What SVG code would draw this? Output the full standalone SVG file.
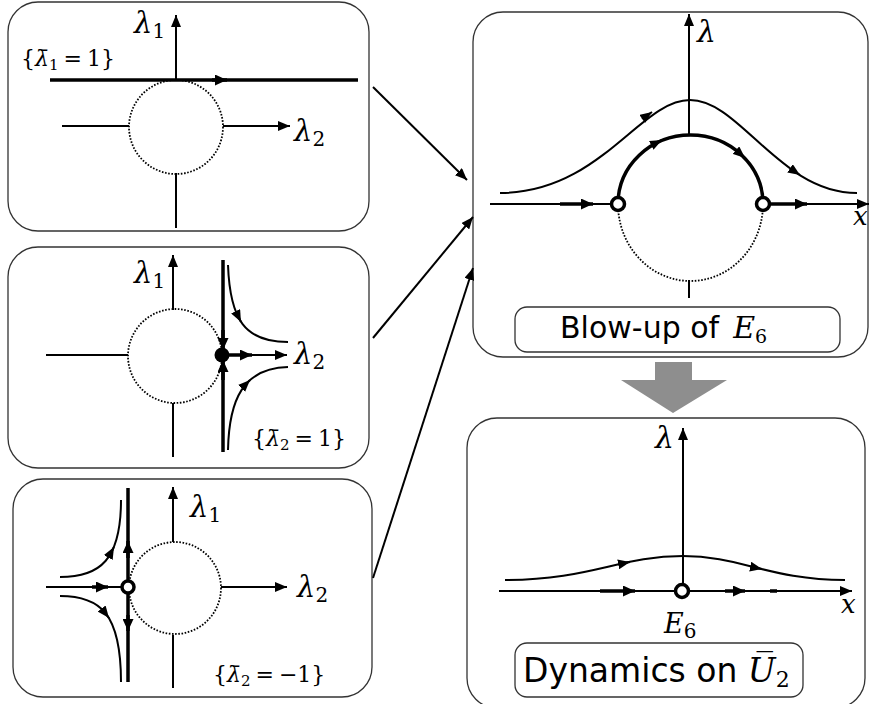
<svg xmlns="http://www.w3.org/2000/svg" width="870" height="704" viewBox="0 0 870 704">
<defs>
<style>
.panel{fill:#fff;stroke:#333;stroke-width:1.3}
.box{fill:#fff;stroke:#333;stroke-width:1.3}
.ln{stroke:#000;stroke-width:2;fill:none}
.tk{stroke:#000;stroke-width:3.5;fill:none}
.dt{stroke:#000;stroke-width:1.8;fill:none;stroke-dasharray:1.6 1.6}
.oc{fill:#fff;stroke:#000;stroke-width:3.5}
.m{font-family:"DejaVu Serif","Liberation Serif",serif;fill:#000}
.i{font-style:italic}
.s{font-family:"DejaVu Sans","Liberation Sans",sans-serif;fill:#000}
</style>
<marker id="ah" viewBox="0 0 12 10" refX="12" refY="5" markerWidth="12" markerHeight="10" markerUnits="userSpaceOnUse" orient="auto"><path d="M0,0 L12,5 L0,10 z" fill="#000"/></marker>
<marker id="fh" viewBox="0 0 12 11" refX="12" refY="5.5" markerWidth="12" markerHeight="11" markerUnits="userSpaceOnUse" orient="auto"><path d="M0,0 L12,5.5 L0,11 z" fill="#000"/></marker>
</defs>

<g id="panel-lambda1">
<rect class="panel" x="8" y="2" width="361" height="229" rx="30"/>
<line class="ln" x1="176" y1="80" x2="176" y2="15" marker-end="url(#ah)"/>
<line class="ln" x1="176" y1="173" x2="176" y2="228"/>
<circle class="dt" cx="176" cy="127" r="47"/>
<line class="tk" x1="50" y1="80" x2="358" y2="80"/>
<path class="tk" d="M212,80 L227,80" marker-end="url(#fh)"/>
<line class="ln" x1="62" y1="126" x2="129" y2="126"/>
<line class="ln" x1="223" y1="126" x2="290" y2="126" marker-end="url(#ah)"/>
<text class="m i" x="134" y="33" font-size="29">λ<tspan font-size="20" dy="5" font-style="normal">1</tspan></text>
<text class="m i" x="294" y="141" font-size="29">λ<tspan font-size="20" dy="5" font-style="normal">2</tspan></text>
<text class="m" x="21" y="66" font-size="22">{<tspan class="i">λ̄</tspan><tspan font-size="15" dy="4">1</tspan><tspan dy="-4" dx="5">=</tspan><tspan dx="5">1}</tspan></text>
</g>

<g id="panel-lambda2">
<rect class="panel" x="8" y="247" width="361" height="221" rx="30"/>
<line class="ln" x1="173" y1="310" x2="173" y2="255" marker-end="url(#ah)"/>
<line class="ln" x1="173" y1="403" x2="173" y2="457"/>
<circle class="dt" cx="175" cy="356" r="47"/>
<line class="ln" x1="46" y1="355" x2="128" y2="355"/>
<line class="tk" x1="223" y1="260" x2="223" y2="452"/>
<path class="tk" d="M223,330 L223,350" marker-end="url(#fh)"/>
<path class="tk" d="M223,380 L223,360" marker-end="url(#fh)"/>
<line class="ln" x1="223" y1="355" x2="287" y2="355" marker-end="url(#ah)"/>
<path class="tk" d="M223,355 L252,355" marker-end="url(#fh)"/>
<circle cx="222" cy="355" r="7.5" fill="#000"/>
<path class="ln" d="M228,265 C230,320 245,342 288,342"/>
<path class="ln" d="M236,312 L241,322" marker-end="url(#ah)"/>
<path class="ln" d="M228,450 C229,400 243,368 288,367"/>
<path class="ln" d="M243,387 L250,380" marker-end="url(#ah)"/>
<text class="m i" x="134" y="283" font-size="29">λ<tspan font-size="20" dy="5" font-style="normal">1</tspan></text>
<text class="m i" x="294" y="364" font-size="29">λ<tspan font-size="20" dy="5" font-style="normal">2</tspan></text>
<text class="m" x="252" y="446" font-size="22">{<tspan class="i">λ̄</tspan><tspan font-size="15" dy="4">2</tspan><tspan dy="-4" dx="5">=</tspan><tspan dx="5">1}</tspan></text>
</g>

<g id="panel-lambda2-neg">
<rect class="panel" x="13" y="479" width="359" height="218" rx="30"/>
<line class="ln" x1="173" y1="542" x2="173" y2="487" marker-end="url(#ah)"/>
<line class="ln" x1="173" y1="635" x2="173" y2="688"/>
<circle class="dt" cx="175" cy="588" r="46"/>
<line class="ln" x1="221" y1="587" x2="287" y2="587" marker-end="url(#ah)"/>
<line class="ln" x1="46" y1="587" x2="122" y2="587"/>
<path class="tk" d="M92,587 L108,587" marker-end="url(#fh)"/>
<line class="tk" x1="128" y1="488" x2="128" y2="682"/>
<path class="tk" d="M128,558 L128,541" marker-end="url(#fh)"/>
<path class="tk" d="M128,615 L128,631" marker-end="url(#fh)"/>
<circle class="oc" cx="128" cy="587" r="6"/>
<path class="ln" d="M60,577 C100,577 121,560 121,500"/>
<path class="ln" d="M108,558 L114,547" marker-end="url(#ah)"/>
<path class="ln" d="M60,596 C100,596 121,613 121,682"/>
<path class="ln" d="M102,609 L109,618" marker-end="url(#ah)"/>
<text class="m i" x="190" y="517" font-size="29">λ<tspan font-size="20" dy="5" font-style="normal">1</tspan></text>
<text class="m i" x="297" y="597" font-size="29">λ<tspan font-size="20" dy="5" font-style="normal">2</tspan></text>
<text class="m" x="213" y="682" font-size="22">{<tspan class="i">λ̄</tspan><tspan font-size="15" dy="4">2</tspan><tspan dy="-4" dx="5">=</tspan><tspan dx="5">−1}</tspan></text>
</g>

<g id="panel-blowup">
<rect class="panel" x="473" y="12" width="395" height="345" rx="30"/>
<line class="ln" x1="689" y1="135" x2="689" y2="14" marker-end="url(#ah)"/>
<line class="ln" x1="689" y1="280" x2="689" y2="298"/>
<path class="dt" d="M618,204 A72.5,77 0 0 0 763,204"/>
<path class="ln" d="M500,193 C600,193 640,100 690,100 C740,100 780,193 857,193"/>
<path class="ln" d="M642,119 L652,112" marker-end="url(#ah)"/>
<path class="ln" d="M791,169 L800,175" marker-end="url(#ah)"/>
<path class="tk" stroke-width="3" d="M618,204 A72.5,69 0 0 1 763,204"/>
<path class="ln" d="M652,145 L662,140" marker-end="url(#ah)"/>
<path class="ln" d="M737,151 L745,158" marker-end="url(#ah)"/>
<line class="ln" x1="490" y1="204" x2="612" y2="204"/>
<path class="tk" d="M560,204 L593,204" marker-end="url(#fh)"/>
<line class="ln" x1="769" y1="204" x2="869" y2="204" marker-end="url(#ah)"/>
<path class="tk" d="M769,204 L807,204" marker-end="url(#fh)"/>
<circle class="oc" cx="618" cy="204" r="6.5"/>
<circle class="oc" cx="763" cy="204" r="6.5"/>
<text class="m i" x="697" y="42" font-size="30">λ</text>
<text class="m i" x="853" y="225" font-size="26">x</text>
<rect class="box" x="515" y="307" width="325" height="45" rx="12"/>
<text class="s" x="560" y="338" font-size="30">Blow-up of<tspan class="m i" dx="14">E</tspan><tspan class="m" font-size="19" dy="5">6</tspan></text>
</g>

<g id="big-arrow">
<polygon points="655,362 692,362 692,380 727,380 673,413 621,380 655,380" fill="#8e8e8e"/>
</g>

<g id="panel-dynamics">
<rect class="panel" x="467" y="418" width="398" height="290" rx="30"/>
<line class="ln" x1="683" y1="585" x2="683" y2="428" marker-end="url(#ah)"/>
<line class="ln" x1="499" y1="591" x2="852" y2="591" marker-end="url(#ah)"/>
<path class="tk" d="M600,591 L635,591" marker-end="url(#fh)"/>
<path class="tk" d="M725,591 L745,591" marker-end="url(#fh)"/>
<line class="tk" x1="770" y1="591" x2="777" y2="591"/>
<circle class="oc" cx="682" cy="591" r="6.5"/>
<path class="ln" d="M505,580 C590,580 620,556 683,556 C740,556 770,580 845,580"/>
<path class="ln" d="M620,564 L630,562" marker-end="url(#ah)"/>
<path class="ln" d="M752,567 L762,569" marker-end="url(#ah)"/>
<text class="m i" x="655" y="448" font-size="30">λ</text>
<text class="m i" x="841" y="613" font-size="26">x</text>
<text class="m i" x="664" y="633" font-size="27">E<tspan font-size="20" dy="5" font-style="normal">6</tspan></text>
<rect class="box" x="515" y="643" width="288" height="54" rx="12"/>
<text class="s" x="523" y="682" font-size="33">Dynamics on <tspan class="m i">U̅</tspan><tspan class="m" font-size="22" dy="5">2</tspan></text>
</g>

<g id="connectors">
<line class="ln" x1="373" y1="87" x2="467" y2="180" marker-end="url(#ah)"/>
<line class="ln" x1="373" y1="338" x2="473" y2="217" marker-end="url(#ah)"/>
<line class="ln" x1="373" y1="578" x2="473" y2="268" marker-end="url(#ah)"/>
</g>
</svg>
